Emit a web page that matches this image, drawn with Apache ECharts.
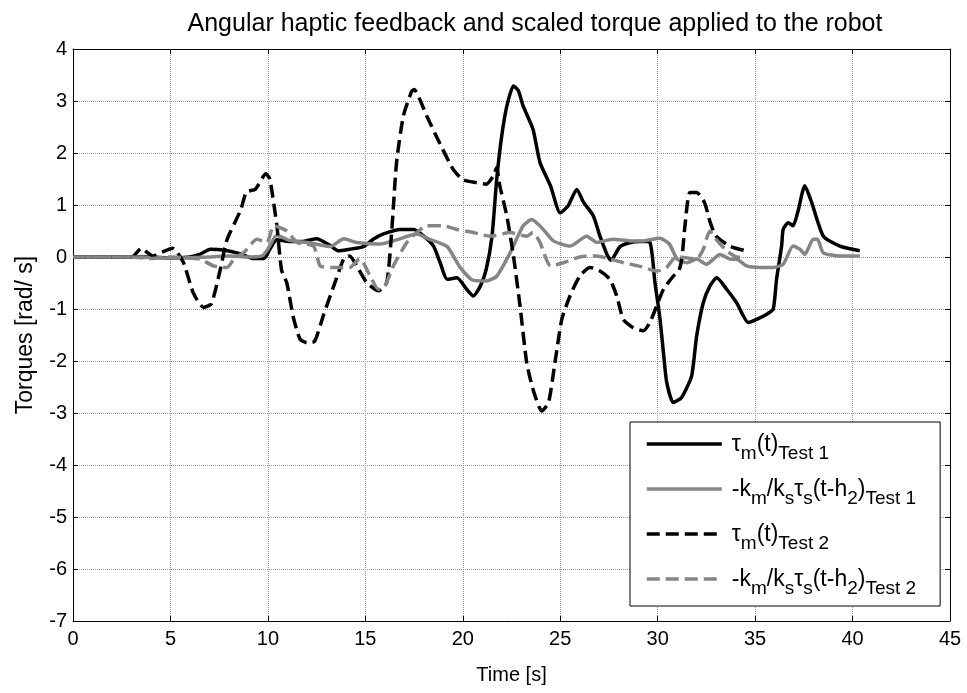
<!DOCTYPE html>
<html>
<head>
<meta charset="utf-8">
<script src="https://cdn.jsdelivr.net/npm/echarts@6/dist/echarts.min.js"></script>
<style>html,body{margin:0;padding:0;background:#fff}#c{width:967px;height:693px}</style>
</head>
<body>
<div id="c"></div>
<script>
// ---- Data ----
const xTicks = [0, 5, 10, 15, 20, 25, 30, 35, 40, 45];
const yTicks = [-7, -6, -5, -4, -3, -2, -1, 0, 1, 2, 3, 4];

// tau_m(t) Test 1 (black solid)
const s1T = [0, 3, 4, 5, 6, 6.5, 7.05, 7.8, 8.6, 9.25, 9.8, 10.1, 10.46, 11.1, 11.8, 12.5, 13.2, 13.6, 14.2, 14.9, 15.4, 15.9, 16.8, 17.5, 18.0, 18.5, 18.84, 19.2, 19.7, 20.2, 20.54, 20.9, 21.2, 21.5, 21.74, 22.0, 22.26, 22.6, 22.85, 23.1, 23.6, 23.96, 24.5, 25.0, 25.4, 25.85, 26.2, 26.7, 27.04, 27.4, 27.6, 28.07, 28.6, 29.1, 29.6, 29.86, 30.1, 30.3, 30.46, 30.8, 31.23, 31.74, 32.0, 32.34, 32.68, 33.03, 33.54, 34.05, 34.65, 35.08, 35.6, 35.93, 36.1, 36.36, 36.44, 36.7, 36.95, 37.2, 37.55, 37.9, 38.5, 39.35, 40.37];
const s1V = [0, 0, 0, -0.02, 0, 0.05, 0.15, 0.13, 0.06, -0.03, -0.03, 0.15, 0.33, 0.3, 0.3, 0.35, 0.22, 0.12, 0.15, 0.2, 0.34, 0.44, 0.53, 0.53, 0.4, 0.21, -0.11, -0.43, -0.4, -0.62, -0.75, -0.56, -0.24, 0.4, 1.49, 2.33, 2.9, 3.29, 3.2, 2.9, 2.46, 1.82, 1.37, 0.85, 0.98, 1.3, 1.05, 0.79, 0.4, 0.05, -0.06, 0.2, 0.28, 0.3, 0.28, -0.49, -1.13, -1.85, -2.4, -2.8, -2.7, -2.29, -1.52, -0.88, -0.56, -0.4, -0.62, -0.88, -1.26, -1.2, -1.1, -1.0, -0.43, 0.21, 0.53, 0.66, 0.6, 0.88, 1.37, 1.05, 0.4, 0.21, 0.12];

// -km/ks tau_s(t-h2) Test 1 (gray solid)
const g1T = [0, 3, 5, 7, 8, 9, 9.7, 10.0, 10.46, 11.1, 12.17, 13.2, 13.9, 14.56, 15.76, 16.6, 17.64, 18.3, 19.2, 19.86, 20.54, 21.2, 21.74, 22.43, 23.1, 23.54, 24.13, 24.65, 25.5, 26.36, 26.87, 27.7, 28.58, 29.26, 30.1, 30.6, 31.0, 31.5, 32.0, 32.5, 33.2, 33.7, 34.1, 34.56, 35.25, 35.93, 36.44, 36.95, 37.3, 37.55, 37.98, 38.2, 38.5, 39.35, 40.37];
const g1V = [0, 0, -0.02, 0, 0.02, 0, 0.02, 0.15, 0.42, 0.32, 0.27, 0.2, 0.35, 0.28, 0.25, 0.33, 0.44, 0.34, 0.2, -0.2, -0.45, -0.46, -0.37, 0.08, 0.6, 0.72, 0.53, 0.31, 0.21, 0.4, 0.28, 0.34, 0.31, 0.31, 0.36, 0.25, -0.04, -0.11, -0.04, -0.14, 0.05, -0.04, -0.05, -0.17, -0.2, -0.2, -0.14, 0.21, 0.15, 0.05, 0.34, 0.34, 0.08, 0.02, 0.02];

// tau_m(t) Test 2 (black dashed)
const d1T = [0, 3, 3.5, 4.1, 4.6, 5.1, 5.66, 6.17, 6.7, 7.1, 7.55, 7.9, 8.6, 8.9, 9.35, 9.9, 10.1, 10.46, 10.7, 10.97, 11.3, 11.65, 12.0, 12.4, 12.85, 13.5, 13.9, 14.2, 14.6, 15.07, 15.67, 16.1, 16.36, 16.6, 16.95, 17.38, 17.5, 18.15, 18.8, 19.5, 20.0, 20.7, 21.2, 21.57, 21.74, 21.9, 22.26, 22.6, 22.94, 23.28, 23.6, 24.05, 24.4, 24.73, 25.08, 25.5, 26.0, 26.53, 27.04, 27.55, 27.9, 28.24, 28.75, 29.26, 29.6, 29.95, 30.3, 30.8, 31.1, 31.25, 31.4, 31.65, 32.0, 32.4, 32.7, 33.0, 33.7, 34.5];
const d1V = [0, 0, 0.16, 0.02, 0.1, 0.17, -0.1, -0.69, -0.97, -0.9, -0.25, 0.33, 0.9, 1.25, 1.3, 1.6, 1.5, 0.6, -0.25, -0.5, -1.15, -1.58, -1.65, -1.62, -1.12, -0.43, -0.03, 0.02, -0.2, -0.49, -0.65, -0.49, 0.53, 1.81, 2.71, 3.19, 3.22, 2.71, 2.2, 1.69, 1.49, 1.43, 1.4, 1.56, 1.72, 1.37, 0.79, 0.02, -0.95, -2.03, -2.54, -2.96, -2.8, -2.03, -1.2, -0.75, -0.37, -0.2, -0.27, -0.43, -0.75, -1.2, -1.36, -1.42, -1.26, -0.94, -0.62, -0.37, -0.25, 0, 0.6, 1.24, 1.24, 1.05, 0.66, 0.4, 0.21, 0.12];

// -km/ks tau_s(t-h2) Test 2 (gray dashed)
const g2T = [0, 3, 4, 5, 6, 6.54, 7.2, 7.9, 8.3, 8.75, 9.44, 9.95, 10.3, 10.97, 11.5, 12.34, 12.68, 13.2, 14.2, 14.7, 14.9, 15.25, 15.67, 16.0, 16.44, 17.13, 17.64, 18.15, 19.0, 19.7, 20.54, 21.4, 22.43, 23.28, 23.6, 23.96, 24.5, 25.16, 26.0, 26.87, 27.55, 28.24, 29.1, 29.95, 30.46, 30.8, 31.1, 32.0, 32.34, 32.68, 33.0, 33.54, 34.05, 34.56];
const g2V = [0, 0, -0.03, 0, -0.02, -0.04, -0.17, -0.2, -0.02, 0.08, 0.34, 0.28, 0.6, 0.5, 0.28, 0.21, -0.17, -0.2, -0.2, -0.04, -0.11, -0.37, -0.62, -0.56, -0.17, 0.28, 0.47, 0.6, 0.6, 0.53, 0.47, 0.4, 0.47, 0.4, 0.47, 0.28, -0.17, -0.11, 0, 0.02, -0.04, -0.11, -0.18, -0.27, -0.2, -0.04, 0, -0.04, 0.15, 0.5, 0.34, 0.12, 0, -0.01];

const seriesNames = ['s1', 'g1', 'd1', 'g2'];

// ---- Chart ----
const zip = (t, v) => t.map((x, i) => [x, v[i]]);
const FONT = 'Liberation Sans, Arial, sans-serif';
const BLACK = '#000000', GRAY = '#858585';

const rich = {
  a: { fontFamily: FONT, fontSize: 23, color: '#000', lineHeight: 26, padding: [2, 0, 0, 0], verticalAlign: 'top' },
  b: { fontFamily: FONT, fontSize: 19, color: '#000', lineHeight: 20, padding: [13, 0, 0, 0], verticalAlign: 'top' }
};
const legendText = {
  s1: '{a|τ}{b|m}{a|(t)}{b|Test 1}',
  g1: '{a|-k}{b|m}{a|/k}{b|s}{a|τ}{b|s}{a|(t-h}{b|2}{a|)}{b|Test 1}',
  d1: '{a|τ}{b|m}{a|(t)}{b|Test 2}',
  g2: '{a|-k}{b|m}{a|/k}{b|s}{a|τ}{b|s}{a|(t-h}{b|2}{a|)}{b|Test 2}'
};

const axisCommon = {
  type: 'value',
  axisLine: { show: true, onZero: false, lineStyle: { color: '#000', width: 1 } },
  axisTick: { show: true, inside: true, length: 5, lineStyle: { color: '#000' } },
  splitLine: { show: false }
};

const mkLine = (name, data, color, dashed) => ({
  name, type: 'line', data, showSymbol: false, symbol: 'none', smooth: 0.2,
  xAxisIndex: 0, yAxisIndex: 0, animation: false, z: 3,
  lineStyle: { color, width: 3.5, type: dashed ? [13, 6] : 'solid', cap: 'butt', join: 'round' },
  itemStyle: { color }
});

const chart = echarts.init(document.getElementById('c'), null, { renderer: 'canvas' });
chart.setOption({
  animation: false,
  backgroundColor: '#fff',
  title: {
    text: 'Angular haptic feedback and scaled torque applied to the robot',
    left: 530, top: 7, textAlign: 'center',
    textStyle: { fontFamily: FONT, fontSize: 25, fontWeight: 'normal', color: '#000' }
  },
  grid: { left: 73, right: 17, top: 49, bottom: 72, containLabel: false },
  legend: {
    orient: 'vertical', left: 630, top: 422,
    padding: [9, 24, 8, 15], itemGap: 13, itemWidth: 75, itemHeight: 14,
    backgroundColor: '#fff', borderColor: '#000', borderWidth: 1,
    data: seriesNames,
    formatter: n => legendText[n],
    textStyle: { rich, fontFamily: FONT, fontSize: 23, color: '#000', padding: [0, 0, 0, 5] },
    itemStyle: { opacity: 0, borderWidth: 0 },
    lineStyle: { width: 3.5 }
  },
  xAxis: [
    Object.assign({}, axisCommon, {
      min: xTicks[0], max: xTicks[xTicks.length - 1], interval: 5, position: 'bottom',
      axisLabel: { fontFamily: FONT, fontSize: 20, color: '#000', margin: 8 },
      splitLine: { show: true, lineStyle: { color: '#9a9a9a', type: [1, 1], width: 1 } },
      name: 'Time [s]', nameLocation: 'middle', nameGap: 44,
      nameTextStyle: { fontFamily: FONT, fontSize: 20, color: '#000' }
    }),
    Object.assign({}, axisCommon, {
      min: xTicks[0], max: xTicks[xTicks.length - 1], interval: 5, position: 'top',
      axisLabel: { show: false }
    })
  ],
  yAxis: [
    Object.assign({}, axisCommon, {
      min: yTicks[0], max: yTicks[yTicks.length - 1], interval: 1, position: 'left',
      axisLabel: { fontFamily: FONT, fontSize: 20, color: '#000', margin: 6 },
      splitLine: { show: true, lineStyle: { color: '#9a9a9a', type: [1, 1], width: 1 } },
      name: 'Torques [rad/ s]', nameLocation: 'middle', nameGap: 36,
      nameTextStyle: { fontFamily: FONT, fontSize: 23, color: '#000' }
    }),
    Object.assign({}, axisCommon, {
      min: yTicks[0], max: yTicks[yTicks.length - 1], interval: 1, position: 'right',
      axisLabel: { show: false }
    })
  ],
  series: [
    mkLine('s1', zip(s1T, s1V), BLACK, false),
    mkLine('g1', zip(g1T, g1V), GRAY, false),
    mkLine('d1', zip(d1T, d1V), BLACK, true),
    mkLine('g2', zip(g2T, g2V), GRAY, true)
  ]
});
</script>
</body>
</html>
